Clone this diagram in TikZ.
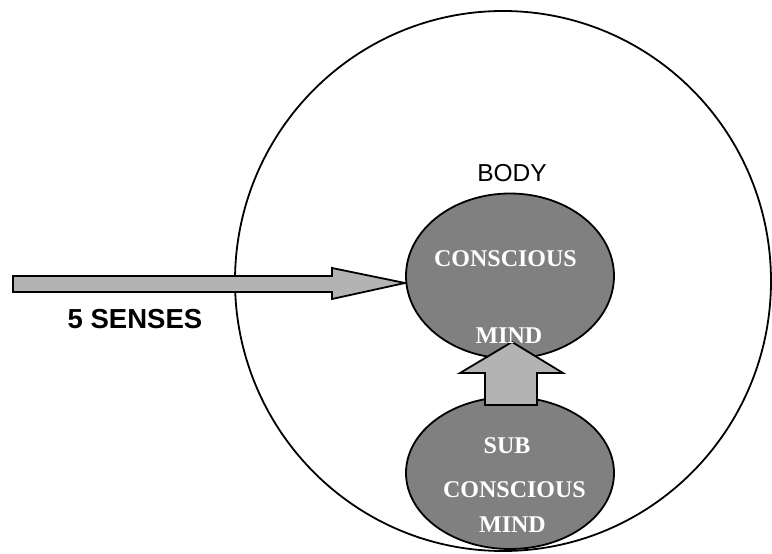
\documentclass[tikz,border=0pt]{standalone}
\usepackage{fontspec}
\setmainfont{Liberation Serif}
\setsansfont{Liberation Sans}
\usetikzlibrary{shapes.geometric}
\definecolor{mindgray}{HTML}{808080}
\definecolor{arrowgray}{HTML}{B3B3B3}
\tikzset{
  outline/.style={draw=black, line width=1.8pt},
  mindshape/.style={outline, ellipse, fill=mindgray, inner sep=0pt},
  blockarrow/.style={outline, fill=arrowgray, line join=miter},
  mindtext/.style={anchor=base, inner sep=0pt, text=white, font=\fontsize{24}{24}\selectfont\bfseries},
}
\begin{document}
\begin{tikzpicture}[x=1pt,y=-1pt]
\useasboundingbox (0,0) rectangle (772,554);
% body circle
\node[outline, ellipse, inner sep=0pt, minimum width=536pt, minimum height=540pt] (body) at (503,281) {};
\node[anchor=base, inner sep=0pt, font=\sffamily\fontsize{24.5}{24.5}\selectfont] (bodylabel) at (512,181) {BODY};
% five senses arrow
\coordinate (sensestail) at (13,284);
\coordinate (sensestip) at (405,283);
\draw[blockarrow] (13,276) -- (332,276) -- (332,268) -- (sensestip) -- (332,299) -- (332,292) -- (13,292) -- cycle;
\node[anchor=base, inner sep=0pt, font=\sffamily\bfseries\fontsize{27.5}{27.5}\selectfont] (senses) at (135,328) {5 SENSES};
% minds
\node[mindshape, minimum width=208pt, minimum height=165pt] (conscious) at (510,276) {};
\node[mindshape, minimum width=208pt, minimum height=152pt] (subconscious) at (510,473) {};
% up arrow
\draw[blockarrow] (485,405) -- (485,373) -- (460,373) -- (512,342) -- (563,373) -- (537,373) -- (537,405) -- cycle;
% texts
\node[mindtext] (c1) at (505.5,266) {CONSCIOUS};
\node[mindtext] (c2) at (509,343) {MIND};
\node[mindtext] (s1) at (507,453) {SUB};
\node[mindtext] (s2) at (514.5,497) {CONSCIOUS};
\node[mindtext] (s3) at (512.5,532) {MIND};
\end{tikzpicture}
\end{document}
